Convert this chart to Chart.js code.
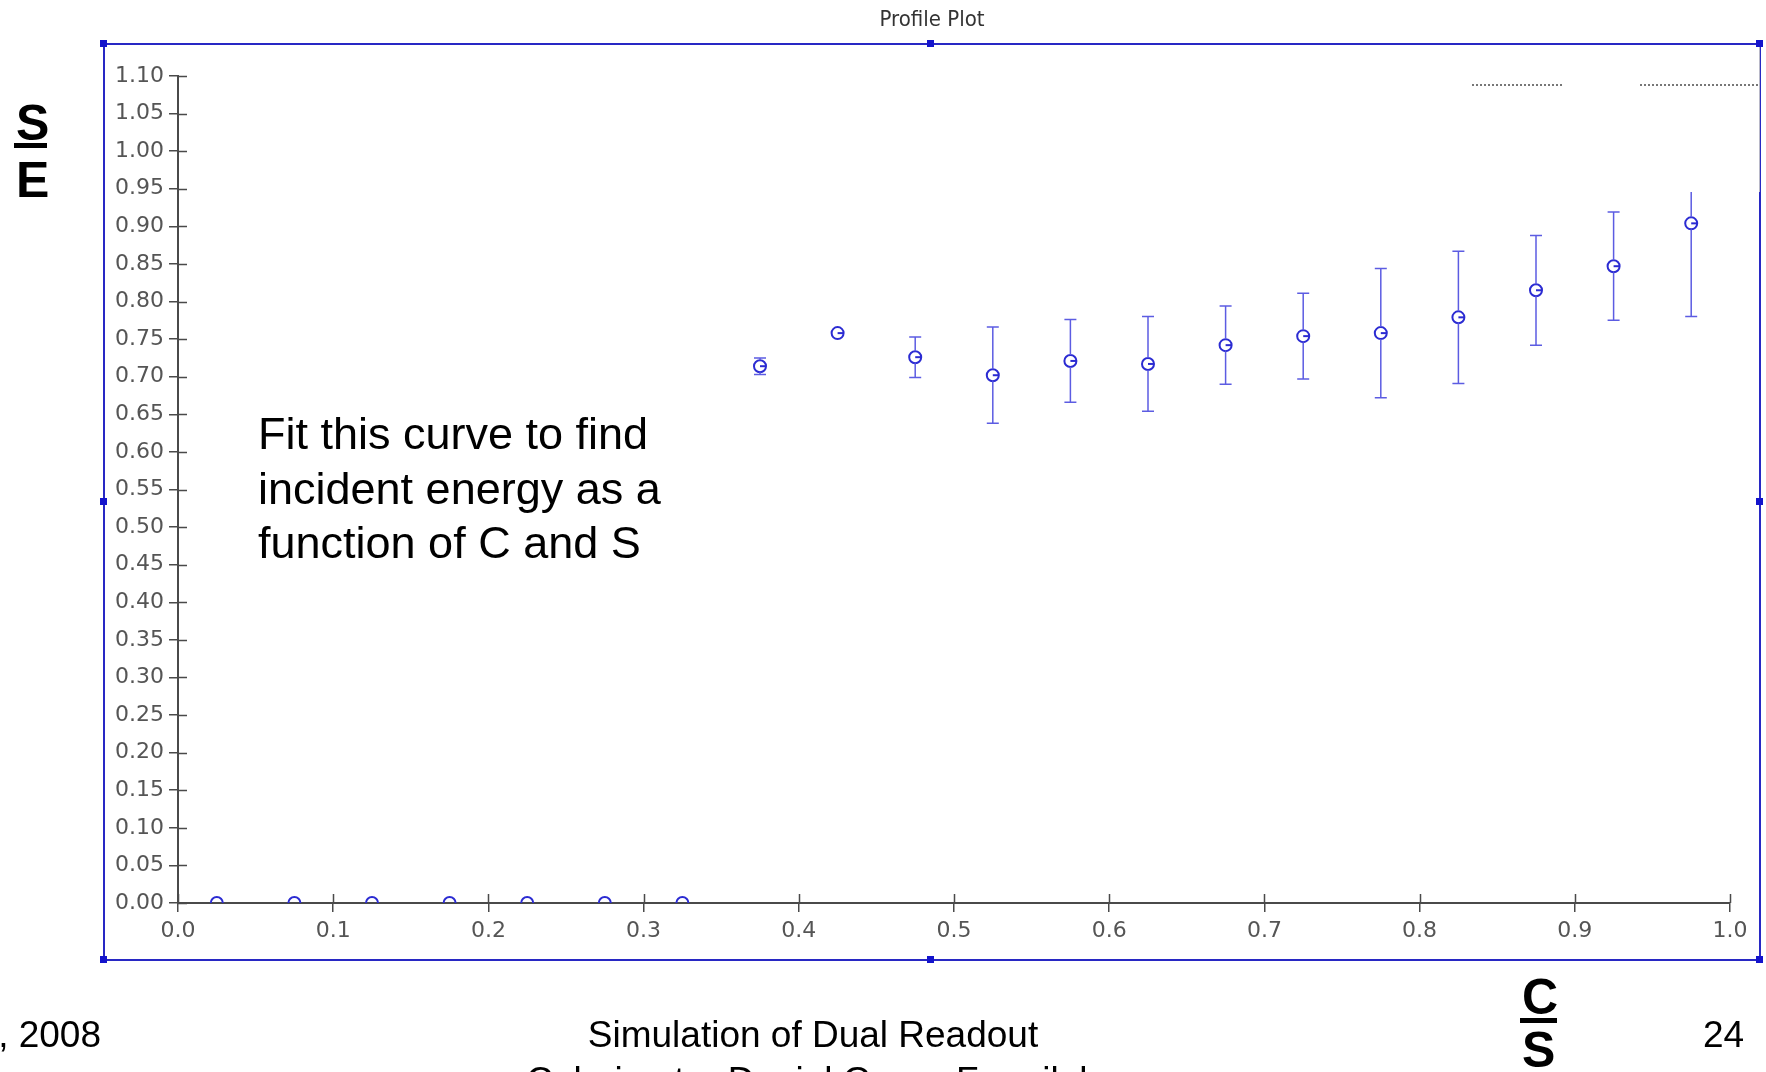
<!DOCTYPE html>
<html>
<head>
<meta charset="utf-8">
<title>Profile Plot</title>
<script src="https://cdn.jsdelivr.net/npm/chart.js@4.4.0/dist/chart.umd.min.js"></script>
<style>
    html, body { margin: 0; padding: 0; background: #fff; }
    #page { position: relative; width: 1766px; height: 1072px; overflow: hidden; font-family: "Liberation Sans", Arial, sans-serif; color: #000; }
    #plot { position: absolute; left: 0; top: 0; }
    .frame { position: absolute; left: 103px; top: 43px; width: 1658px; height: 918px; box-sizing: border-box; border: 2px solid #2828c4; }
    .handle { position: absolute; width: 7px; height: 7px; background: #1414cc; }
    .cover { position: absolute; left: 1453px; top: 46px; width: 306px; height: 146px; background: #fff; border-right: 1px solid #b8b8c8; }
    .dots { position: absolute; top: 84px; height: 0; border-top: 2px dotted #777; }
    .txt { position: absolute; white-space: nowrap; }
    .title { position: absolute; left: 832px; top: 7px; width: 200px; text-align: center; font-family: "DejaVu Sans Condensed", "DejaVu Sans", sans-serif; font-size: 22px; line-height: 24px; color: #333; }
    .frac { position: absolute; font-weight: bold; font-size: 50px; line-height: 50px; }
    .bar { position: absolute; height: 5px; background: #000; }
</style>
</head>
<body>
<div id="page">
    <canvas id="plot" width="1766" height="1072"></canvas>

    <div class="title">Profile Plot</div>
    <div class="frame"></div>
    <div class="cover"></div>
    <div class="dots" style="left:1472px; width:90px;"></div>
    <div class="dots" style="left:1640px; width:118px;"></div>
    <div class="handle" style="left:100px; top:40px;"></div>
    <div class="handle" style="left:927px; top:40px;"></div>
    <div class="handle" style="left:1756px; top:40px;"></div>
    <div class="handle" style="left:100px; top:498px;"></div>
    <div class="handle" style="left:1756px; top:498px;"></div>
    <div class="handle" style="left:100px; top:956px;"></div>
    <div class="handle" style="left:927px; top:956px;"></div>
    <div class="handle" style="left:1756px; top:956px;"></div>

    <!-- y label S/E -->
    <div class="frac" style="left:16px; top:98px;">S</div>
    <div class="bar" style="left:14px; top:143px; width:33px;"></div>
    <div class="frac" style="left:16px; top:155px;">E</div>

    <!-- x label C/S -->
    <div class="frac" style="left:1522px; top:972px;">C</div>
    <div class="bar" style="left:1520px; top:1018px; width:37px;"></div>
    <div class="frac" style="left:1522px; top:1025px;">S</div>

    <div class="txt" style="left:258px; top:407px; font-size:45px; line-height:54.5px;">
        Fit this curve to find<br>incident energy as a<br>function of C and S
    </div>

    <div class="txt" style="left:-295px; top:1012px; width:396px; text-align:right; font-size:37px; line-height:46px;">, 2008</div>
    <div class="txt" style="left:413px; top:1012px; width:800px; text-align:center; font-size:37px; line-height:46px;">
        Simulation of Dual Readout<br>Calorimeter Daniel Green Fermilab
    </div>
    <div class="txt" style="left:1703px; top:1012px; font-size:37px; line-height:46px;">24</div>
</div>

<script>
// profile bins (C/S) and mean S/E with its error
var binCenters = [0.025, 0.075, 0.125, 0.175, 0.225, 0.275, 0.325, 0.375, 0.425, 0.475,
                  0.525, 0.575, 0.625, 0.675, 0.725, 0.775, 0.825, 0.875, 0.925, 0.975];
var meanValues = [0, 0, 0, 0, 0, 0, 0, 0.714, 0.758, 0.726,
                  0.702, 0.721, 0.717, 0.742, 0.754, 0.758, 0.779, 0.815, 0.847, 0.904];
var errorValues = [0, 0, 0, 0, 0, 0, 0, 0.011, 0, 0.027,
                   0.064, 0.055, 0.063, 0.052, 0.057, 0.086, 0.088, 0.073, 0.072, 0.124];

var xTickValues = [0, 0.1, 0.2, 0.3, 0.4, 0.5, 0.6, 0.7, 0.8, 0.9, 1.0];
var yTickValues = [0, 0.05, 0.10, 0.15, 0.20, 0.25, 0.30, 0.35, 0.40, 0.45, 0.50, 0.55,
                   0.60, 0.65, 0.70, 0.75, 0.80, 0.85, 0.90, 0.95, 1.00, 1.05, 1.10];

var markerColor = '#2b2bd2';
var barColor = '#5c5ce2';
var axisColor = '#4a4a4a';
var tickFont = { family: "'DejaVu Sans', sans-serif", size: 22 };

var points = [];
for (var i = 0; i < binCenters.length; i++) {
    points.push({ x: binCenters[i], y: meanValues[i] });
}

// ticks in this plot cross the axis, chart.js only draws the outer half
var innerTicks = {
    id: 'innerTicks',
    beforeDatasetsDraw: function (chart) {
        var a = chart.chartArea, ctx = chart.ctx;
        var xs = chart.scales.x, ys = chart.scales.y;
        ctx.save();
        ctx.strokeStyle = axisColor;
        ctx.lineWidth = 1.5;
        ctx.beginPath();
        ys.ticks.forEach(function (t) {
            var py = Math.round(ys.getPixelForValue(t.value)) + 0.5;
            ctx.moveTo(a.left, py);
            ctx.lineTo(a.left + 9, py);
        });
        xs.ticks.forEach(function (t) {
            var px = Math.round(xs.getPixelForValue(t.value)) + 0.5;
            ctx.moveTo(px, a.bottom);
            ctx.lineTo(px, a.bottom - 9);
        });
        ctx.stroke();
        ctx.restore();
    }
};

// error bars with caps + the little dash inside each marker
var errorBars = {
    id: 'errorBars',
    afterDatasetsDraw: function (chart) {
        var ctx = chart.ctx;
        var xs = chart.scales.x, ys = chart.scales.y;
        ctx.save();
        for (var i = 0; i < binCenters.length; i++) {
            if (!meanValues[i]) continue;
            var px = xs.getPixelForValue(binCenters[i]);
            var py = ys.getPixelForValue(meanValues[i]);
            if (errorValues[i]) {
                var top = ys.getPixelForValue(meanValues[i] + errorValues[i]);
                var bot = ys.getPixelForValue(meanValues[i] - errorValues[i]);
                ctx.strokeStyle = barColor;
                ctx.lineWidth = 1.5;
                ctx.beginPath();
                ctx.moveTo(px, top); ctx.lineTo(px, py - 6);
                ctx.moveTo(px, py + 6); ctx.lineTo(px, bot);
                ctx.moveTo(px - 6, top); ctx.lineTo(px + 6, top);
                ctx.moveTo(px - 6, bot); ctx.lineTo(px + 6, bot);
                ctx.stroke();
            }
            ctx.strokeStyle = markerColor;
            ctx.lineWidth = 2;
            ctx.beginPath();
            ctx.moveTo(px, py);
            ctx.lineTo(px + 6, py);
            ctx.stroke();
        }
        ctx.restore();
    }
};

var ctx = document.getElementById('plot');
var profileChart = new Chart(ctx, {
    type: 'scatter',
    data: {
        datasets: [{
            label: 'Profile',
            data: points,
            showLine: false,
            pointStyle: 'circle',
            pointRadius: 6,
            pointBorderWidth: 2,
            borderColor: markerColor,
            backgroundColor: 'rgba(0,0,0,0)',
            clip: 0
        }]
    },
    options: {
        responsive: false,
        animation: false,
        devicePixelRatio: 1,
        layout: { padding: { left: 0, right: 36, top: 76, bottom: 0 } },
        plugins: {
            legend: { display: false },
            tooltip: { enabled: false },
            title: { display: false }
        },
        scales: {
            x: {
                type: 'linear',
                min: 0,
                max: 1,
                afterBuildTicks: function (scale) {
                    scale.ticks = xTickValues.map(function (v) { return { value: v }; });
                },
                afterFit: function (scale) { scale.height = 169; },
                ticks: {
                    color: '#555',
                    font: tickFont,
                    padding: 6,
                    maxRotation: 0,
                    callback: function (v) { return Number(v).toFixed(1); }
                },
                grid: { drawOnChartArea: false, drawTicks: true, tickLength: 9, color: axisColor, lineWidth: 1.5 },
                border: { display: true, color: axisColor, width: 2 }
            },
            y: {
                type: 'linear',
                min: 0,
                max: 1.1,
                afterBuildTicks: function (scale) {
                    scale.ticks = yTickValues.map(function (v) { return { value: v }; });
                },
                afterFit: function (scale) { scale.width = 178; },
                ticks: {
                    color: '#555',
                    font: tickFont,
                    padding: 5,
                    callback: function (v) { return Number(v).toFixed(2); }
                },
                grid: { drawOnChartArea: false, drawTicks: true, tickLength: 9, color: axisColor, lineWidth: 1.5 },
                border: { display: true, color: axisColor, width: 2 }
            }
        }
    },
    plugins: [innerTicks, errorBars]
});
</script>
</body>
</html>
